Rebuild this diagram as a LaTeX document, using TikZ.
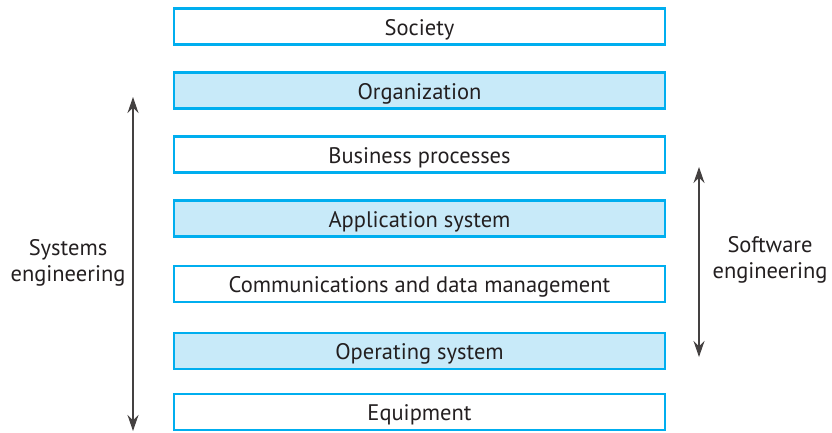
\documentclass[tikz,border=0pt]{standalone}
\usepackage{fontspec}
\setmainfont{PT Sans}
\usetikzlibrary{arrows.meta}
\definecolor{layerline}{HTML}{00AEEF}
\definecolor{layerfill}{HTML}{C8EAF9}
\definecolor{textdark}{HTML}{231F20}
\tikzset{
  layer/.style={draw=layerline, line width=2.5pt, minimum width=491pt,
    minimum height=36pt, inner sep=0pt, text height=22pt, text depth=5pt,
    font=\fontsize{22.5}{26}\selectfont, text=textdark},
  shaded/.style={layer, fill=layerfill},
  span/.style={{Stealth[length=16pt,width=11pt]}-{Stealth[length=16pt,width=11pt]},
    line width=1.3pt, draw=textdark!85},
  sidelabel/.style={align=center, font=\fontsize{22.5}{26}\selectfont, text=textdark}
}
\begin{document}
\begin{tikzpicture}[x=1pt,y=-1pt]
  \useasboundingbox (0,0) rectangle (832,432);
  \node[layer]  (society) at (419.5,26.5)  {Society};
  \node[shaded] (org)     at (419.5,90.5)  {Organization};
  \node[layer]  (bus)     at (419.5,154.5) {Business processes};
  \node[shaded] (app)     at (419.5,218.5) {Application system};
  \node[layer]  (comms)   at (419.5,284)   {Communications and data management};
  \node[shaded] (os)      at (419.5,351)   {Operating system};
  \node[layer]  (equip)   at (419.5,412)   {Equipment};
  % spans
  \coordinate (systop) at (133,97);
  \coordinate (sysbot) at (133,431);
  \coordinate (swtop) at (699,167);
  \coordinate (swbot) at (699,357);
  \draw[span] (systop) -- (sysbot);
  \draw[span] (swtop) -- (swbot);
  \node[sidelabel] (syslabel) at (68,263) {Systems\\engineering};
  \node[sidelabel] (swlabel) at (770,260) {Software\\engineering};
\end{tikzpicture}
\end{document}
